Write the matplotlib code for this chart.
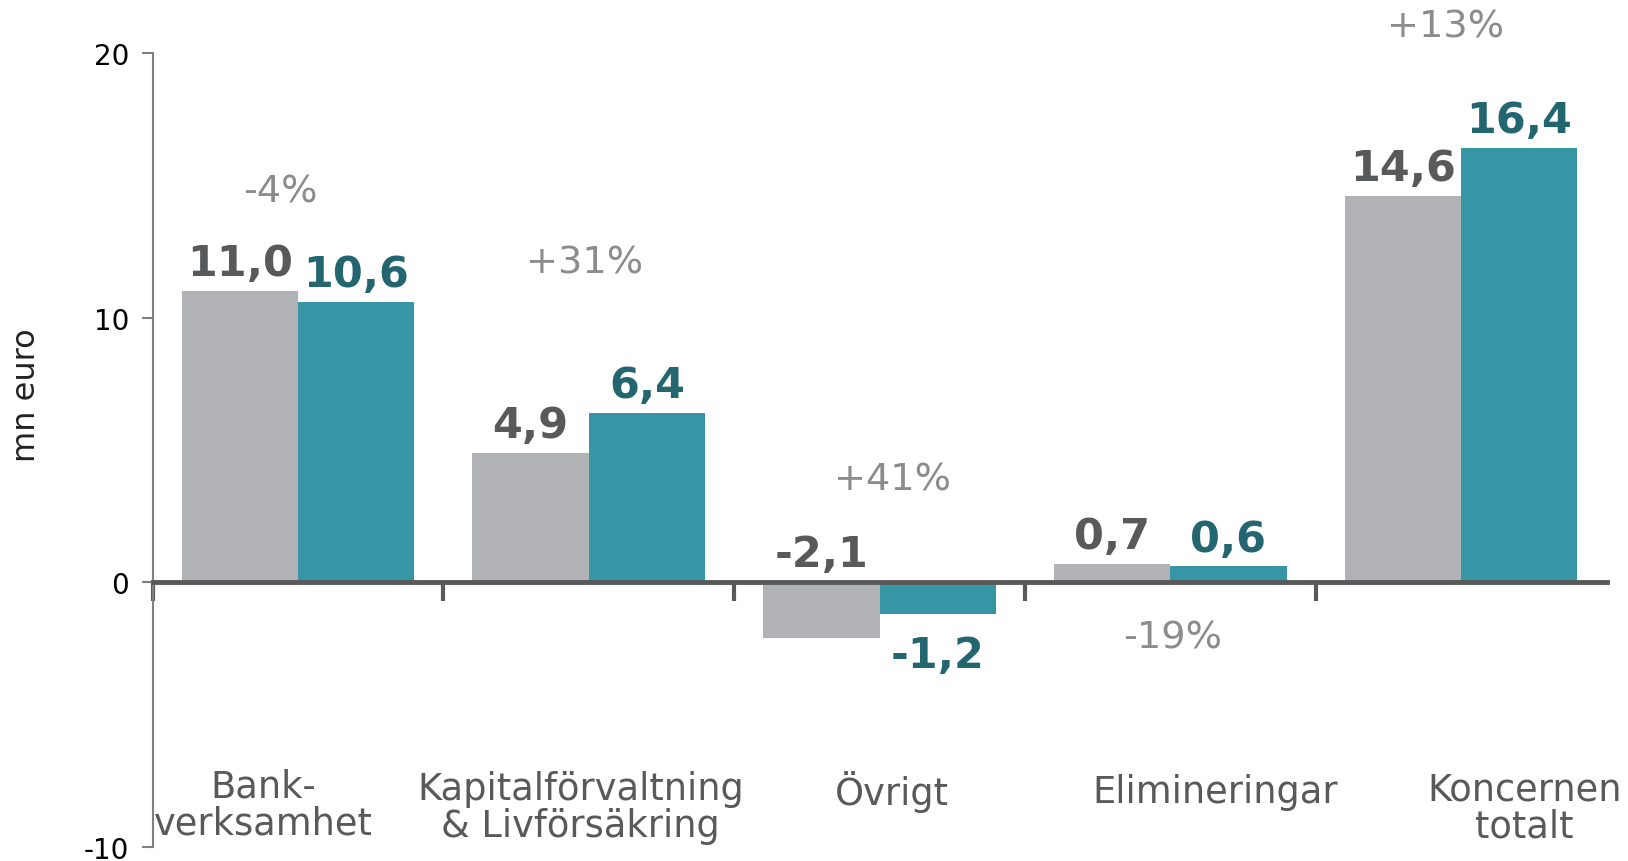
#resultat per segment
import numpy as np
import matplotlib
matplotlib.use("Agg")
import matplotlib.pyplot as plt

#data
categories = ["Bank-\nverksamhet", "Kapitalförvaltning\n& Livförsäkring", "Övrigt", "Elimineringar", "Koncernen\ntotalt"]
prev_year = [11.0, 4.9, -2.1, 0.7, 14.6]
this_year = [10.6, 6.4, -1.2, 0.6, 16.4]
changes = ["-4%", "+31%", "+41%", "-19%", "+13%"]
yticks = [-10, 0, 10, 20]

#colors
grey_bar = "#B1B2B5"
teal_bar = "#3796A6"
grey_txt = "#58595B"
teal_txt = "#246670"
pct_txt = "#8C8C8C"
cat_txt = "#595959"

plt.rcParams['font.family'] = ['DejaVu Sans']

fig = plt.figure(figsize=(16.28, 8.62), dpi=100)
ax = fig.add_axes([0.0937, 0.0162, 0.8931, 0.9212])

x = np.arange(len(categories)) + 0.5
w = 0.4
ax.bar(x - w/2, prev_year, w, color=grey_bar, zorder=2)
ax.bar(x + w/2, this_year, w, color=teal_bar, zorder=2)

ax.set_xlim(0, 5)
ax.set_ylim(-10, 20)

#axes styling
for s in ["top", "right"]:
    ax.spines[s].set_visible(False)
ax.spines["left"].set_color("#808080")
ax.spines["left"].set_linewidth(1.5)
ax.spines["bottom"].set_position(("data", 0))
ax.spines["bottom"].set_color("#595959")
ax.spines["bottom"].set_linewidth(3.5)
ax.spines["bottom"].set_zorder(3)

ax.set_yticks(yticks)
ax.set_yticklabels([str(t) for t in yticks], fontsize=20, color="black")
ax.tick_params(axis="y", direction="out", length=8, width=1.5, color="#808080", pad=9)
ax.set_xticks([0, 1, 2, 3, 4])
ax.set_xticklabels([])
ax.tick_params(axis="x", direction="out", length=14, width=3, color="#595959")

ax.set_ylabel("mn euro", fontsize=23, color="#222222")
ax.yaxis.set_label_coords(-0.076, 0.57)

#value labels
for i in range(len(categories)):
    p = prev_year[i]
    t = this_year[i]
    lbl_p = ("%.1f" % p).replace(".", ",")
    lbl_t = ("%.1f" % t).replace(".", ",")
    ax.annotate(lbl_p, (x[i] - w/2, max(p, 0)), xytext=(0, 5), textcoords="offset points",
                ha="center", va="bottom", fontsize=31, fontweight="bold", color=grey_txt)
    if t >= 0:
        ax.annotate(lbl_t, (x[i] + w/2, t), xytext=(0, 5), textcoords="offset points",
                    ha="center", va="bottom", fontsize=31, fontweight="bold", color=teal_txt)
    else:
        ax.annotate(lbl_t, (x[i] + w/2, t), xytext=(0, -14), textcoords="offset points",
                    ha="center", va="top", fontsize=31, fontweight="bold", color=teal_txt)

#percentage changes (placed by hand like the original)
pct_pos = [(0.44, 14.75), (1.486, 12.09), (2.546, 3.9), (3.507, -2.1), (4.446, 21.0)]
for i in range(len(changes)):
    ax.text(pct_pos[i][0], pct_pos[i][1], changes[i], ha="center", va="center",
            fontsize=27.5, color=pct_txt, clip_on=False)

#category labels
cat_pos = [(0.382, -8.4), (1.471, -8.5), (2.543, -7.9), (3.654, -7.9), (4.718, -8.5)]
for i in range(len(categories)):
    ax.text(cat_pos[i][0], cat_pos[i][1], categories[i], ha="center", va="center",
            fontsize=26.5, color=cat_txt, linespacing=1.0, clip_on=False)

fig.savefig("out.png", dpi=100)
